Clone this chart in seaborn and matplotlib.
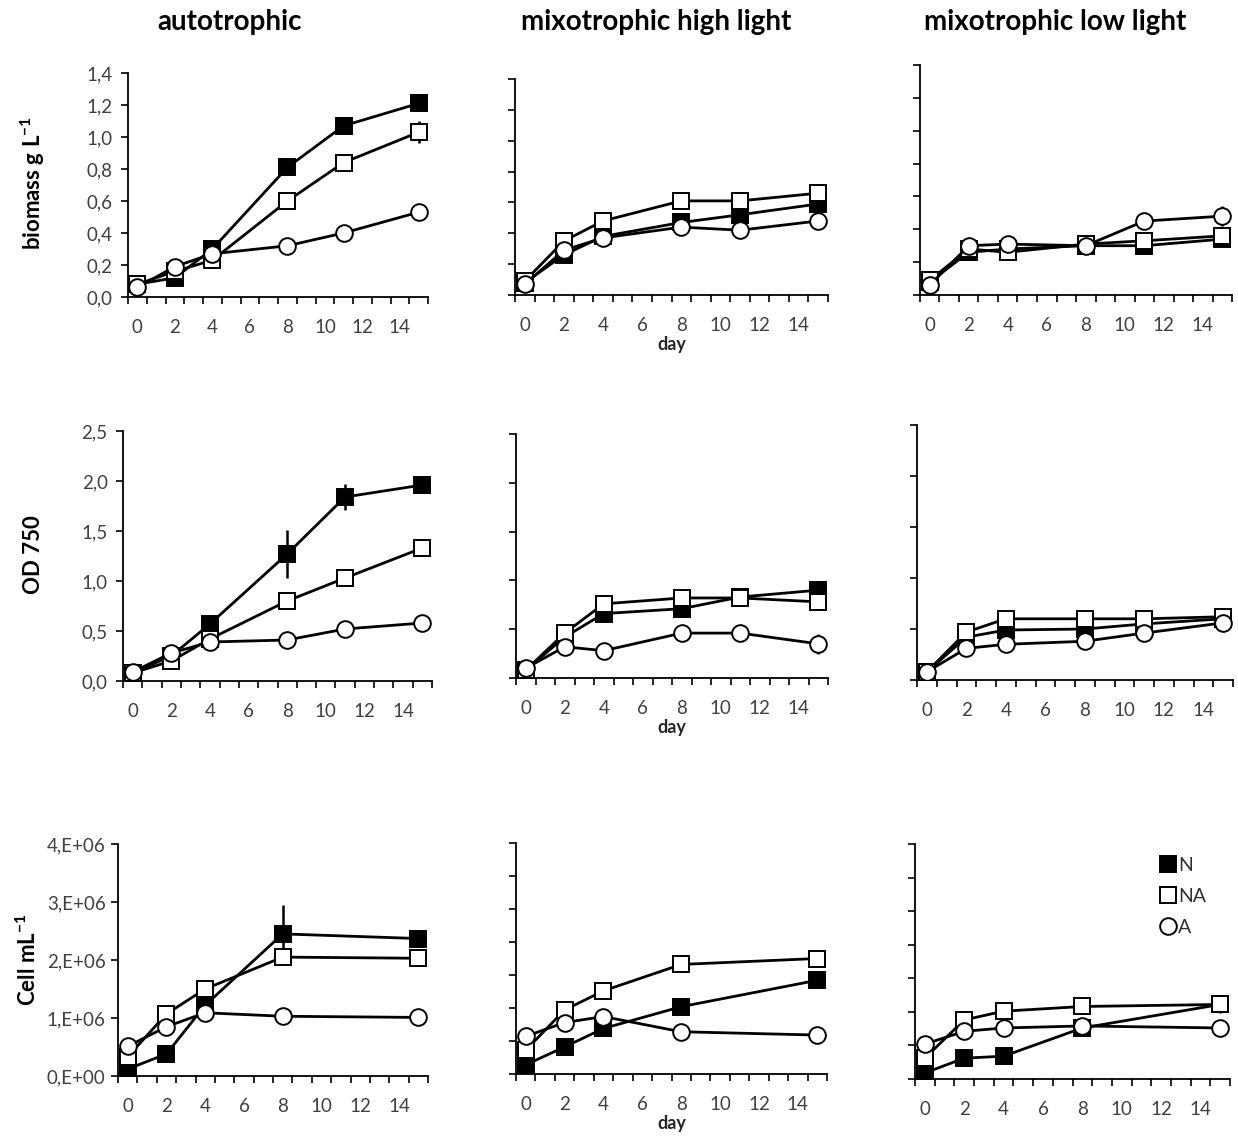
import numpy as np
import pandas as pd
import matplotlib
matplotlib.use("Agg")
import matplotlib.pyplot as plt
import seaborn as sns
from matplotlib.lines import Line2D

sns.set_theme(style="ticks")
plt.rcParams["font.family"] = ["Lato", "DejaVu Sans"]
plt.rcParams["mathtext.fontset"] = "custom"
plt.rcParams["mathtext.rm"] = "Lato"
plt.rcParams["mathtext.bf"] = "Lato:bold"

# ── data ──────────────────────────────────────────────────────────────────────
days = [0, 2, 4, 8, 11, 15]
days_cell = [0, 2, 4, 8, 15]
conditions = ["autotrophic", "mixotrophic high light", "mixotrophic low light"]
series = ["N", "NA", "A"]

# biomass g/L
bio_auto_N  = [0.08, 0.12, 0.30, 0.81, 1.07, 1.21]
bio_auto_NA = [0.08, 0.16, 0.23, 0.60, 0.84, 1.03]
bio_auto_A  = [0.06, 0.19, 0.27, 0.32, 0.40, 0.53]
bio_high_N  = [0.08, 0.26, 0.38, 0.47, 0.52, 0.59]
bio_high_NA = [0.09, 0.35, 0.48, 0.61, 0.61, 0.66]
bio_high_A  = [0.07, 0.29, 0.37, 0.44, 0.42, 0.48]
bio_low_N   = [0.08, 0.26, 0.28, 0.30, 0.30, 0.34]
bio_low_NA  = [0.09, 0.28, 0.26, 0.31, 0.33, 0.36]
bio_low_A   = [0.06, 0.30, 0.31, 0.30, 0.45, 0.48]
# OD 750
od_auto_N   = [0.08, 0.25, 0.57, 1.27, 1.84, 1.96]
od_auto_NA  = [0.08, 0.20, 0.42, 0.80, 1.03, 1.33]
od_auto_A   = [0.09, 0.28, 0.39, 0.41, 0.52, 0.58]
od_high_N   = [0.08, 0.42, 0.66, 0.71, 0.83, 0.90]
od_high_NA  = [0.08, 0.46, 0.76, 0.82, 0.82, 0.78]
od_high_A   = [0.10, 0.32, 0.28, 0.46, 0.46, 0.35]
od_low_N    = [0.08, 0.42, 0.49, 0.50, 0.55, 0.60]
od_low_NA   = [0.08, 0.47, 0.60, 0.60, 0.60, 0.62]
od_low_A    = [0.08, 0.31, 0.35, 0.38, 0.46, 0.56]
# cell mL-1
cell_auto_N  = [0.12e6, 0.38e6, 1.22e6, 2.45e6, 2.37e6]
cell_auto_NA = [0.33e6, 1.07e6, 1.50e6, 2.05e6, 2.03e6]
cell_auto_A  = [0.51e6, 0.85e6, 1.09e6, 1.03e6, 1.01e6]
cell_high_N  = [0.14e6, 0.41e6, 0.69e6, 1.02e6, 1.42e6]
cell_high_NA = [0.36e6, 0.97e6, 1.26e6, 1.66e6, 1.75e6]
cell_high_A  = [0.57e6, 0.78e6, 0.87e6, 0.64e6, 0.59e6]
cell_low_N   = [0.09e6, 0.31e6, 0.34e6, 0.76e6, 1.11e6]
cell_low_NA  = [0.31e6, 0.88e6, 1.01e6, 1.08e6, 1.11e6]
cell_low_A   = [0.52e6, 0.71e6, 0.76e6, 0.79e6, 0.76e6]

# standard deviations (only the visible ones)
err_bio_auto_N  = [0, 0, 0, 0.01, 0.02, 0.03]
err_bio_auto_NA = [0, 0, 0, 0.03, 0.04, 0.07]
err_bio_auto_A  = [0, 0, 0, 0, 0.01, 0.04]
err_bio_high_A  = [0, 0, 0, 0.05, 0, 0]
err_bio_low_A   = [0, 0, 0, 0, 0, 0.06]
err_od_auto_N   = [0, 0, 0, 0.24, 0.13, 0]
err_od_high_A   = [0, 0, 0, 0.08, 0, 0.10]
err_cell_auto_N = [0, 0, 0, 0.50e6, 0]
err_cell_high_A = [0, 0, 0, 0.10e6, 0]
err_cell_low_NA = [0, 0, 0, 0, 0.12e6]

bio_ticks  = ["0,0", "0,2", "0,4", "0,6", "0,8", "1,0", "1,2", "1,4"]
od_ticks   = ["0,0", "0,5", "1,0", "1,5", "2,0", "2,5"]
cell_ticks = ["0,E+00", "1,E+06", "2,E+06", "3,E+06", "4,E+06"]

# ── panel setup ───────────────────────────────────────────────────────────────
W, H = 1238, 1140
# pixel boxes (left, top, right, bottom)
boxes = [
    [(128, 73, 428, 297), (515, 79, 828, 295), (920, 65, 1232, 295)],
    [(123, 431, 432, 681), (516, 434, 828, 678), (917, 425, 1233, 680)],
    [(118, 844, 428, 1076), (516, 843, 827, 1074), (915, 844, 1230, 1079)],
]
rows = [
    dict(x=days, ymax=[1.4, 1.4, 1.4], step=[0.2, 0.2, 0.2], labels=bio_ticks,
         data=[[bio_auto_N, bio_auto_NA, bio_auto_A],
               [bio_high_N, bio_high_NA, bio_high_A],
               [bio_low_N, bio_low_NA, bio_low_A]],
         err=[[err_bio_auto_N, err_bio_auto_NA, err_bio_auto_A],
              [None, None, err_bio_high_A],
              [None, None, err_bio_low_A]]),
    dict(x=days, ymax=[2.5, 2.5, 2.5], step=[0.5, 0.5, 0.5], labels=od_ticks,
         data=[[od_auto_N, od_auto_NA, od_auto_A],
               [od_high_N, od_high_NA, od_high_A],
               [od_low_N, od_low_NA, od_low_A]],
         err=[[err_od_auto_N, None, None],
              [None, None, err_od_high_A],
              [None, None, None]]),
    dict(x=days_cell, ymax=[4e6, 3.5e6, 3.5e6], step=[1e6, 0.5e6, 0.5e6], labels=cell_ticks,
         data=[[cell_auto_N, cell_auto_NA, cell_auto_A],
               [cell_high_N, cell_high_NA, cell_high_A],
               [cell_low_N, cell_low_NA, cell_low_A]],
         err=[[err_cell_auto_N, None, None],
              [None, None, err_cell_high_A],
              [None, err_cell_low_NA, None]]),
]
styles = {"N": dict(marker="s", markersize=11, markerfacecolor="black"),
          "NA": dict(marker="s", markersize=11, markerfacecolor="white"),
          "A": dict(marker="o", markersize=12, markerfacecolor="white")}
ylabels = [r"biomass g L$^{\mathbf{-1}}$", "OD 750", r"Cell mL$^{\mathbf{-1}}$"]
ylabel_pos = [(33, 183), (33, 555), (28, 960)]
ylabel_pad = [6, 6, 4]
title_x = [230, 656, 1055]
TICK_C = "#404040"

fig = plt.figure(figsize=(W / 100, H / 100), dpi=100)

for r, row in enumerate(rows):
    for c in range(3):
        l, t, rr, b = boxes[r][c]
        ax = fig.add_axes([l / W, 1 - b / H, (rr - l) / W, (b - t) / H])
        for k, name in enumerate(series):
            vals = row["data"][c][k]
            err = row["err"][c][k]
            df = pd.DataFrame({"day": row["x"], "value": vals})
            if err is not None:
                ax.errorbar(row["x"], vals, yerr=err, fmt="none", ecolor="black",
                            elinewidth=1.8, capsize=0, zorder=2 + k)
            sns.lineplot(data=df, x="day", y="value", ax=ax, color="black", lw=2.0,
                         markeredgecolor="black", markeredgewidth=1.4,
                         zorder=3 + k, **styles[name])
        ax.set_xlim(-0.5, 15.5)
        ymax, step = row["ymax"][c], row["step"][c]
        ax.set_ylim(0, ymax)
        yt = np.arange(0, ymax + step / 2, step)
        ax.set_yticks(yt)
        if c == 0:
            ax.set_yticklabels(row["labels"])
        else:
            ax.set_yticklabels([])
        ax.set_xticks(np.arange(0, 15, 2))
        ax.set_xticklabels([str(d) for d in range(0, 15, 2)])
        ax.set_xticks(np.arange(-0.5, 15.6, 1), minor=True)
        ax.tick_params(axis="x", which="major", length=0, pad=16,
                       labelsize=13.5, labelcolor=TICK_C)
        ax.tick_params(axis="x", which="minor", length=5, width=1.2, color="black")
        ax.tick_params(axis="y", length=5, width=1.2, color="black", pad=ylabel_pad[r],
                       labelsize=13.5, labelcolor=TICK_C)
        for s in ["top", "right"]:
            ax.spines[s].set_visible(False)
        for s in ["left", "bottom"]:
            ax.spines[s].set_color("black")
            ax.spines[s].set_linewidth(1.3)
        ax.set_ylabel("")
        if c == 1:
            ax.set_xlabel("day", fontsize=13, fontweight="bold", labelpad=1)
        else:
            ax.set_xlabel("")
        if r == 2 and c == 2:
            handles = [Line2D([], [], ls="none", color="black", markeredgecolor="black",
                              markeredgewidth=1.4, **styles[n]) for n in series]
            ax.legend(handles, series, loc="upper right", bbox_to_anchor=(0.98, 1.02),
                      frameon=False, handletextpad=0.05, labelspacing=0.72,
                      fontsize=14, handlelength=1.0, labelcolor="#303030")

for c, name in enumerate(conditions):
    fig.text(title_x[c] / W, 1 - 22 / H, name, ha="center", va="center",
             fontsize=20, fontweight="bold", color="black")
for r, lab in enumerate(ylabels):
    x, y = ylabel_pos[r]
    fig.text(x / W, 1 - y / H, lab, ha="center", va="center", rotation=90,
             fontsize=16, fontweight="bold", color="black")

fig.savefig("out.png", dpi=100)
